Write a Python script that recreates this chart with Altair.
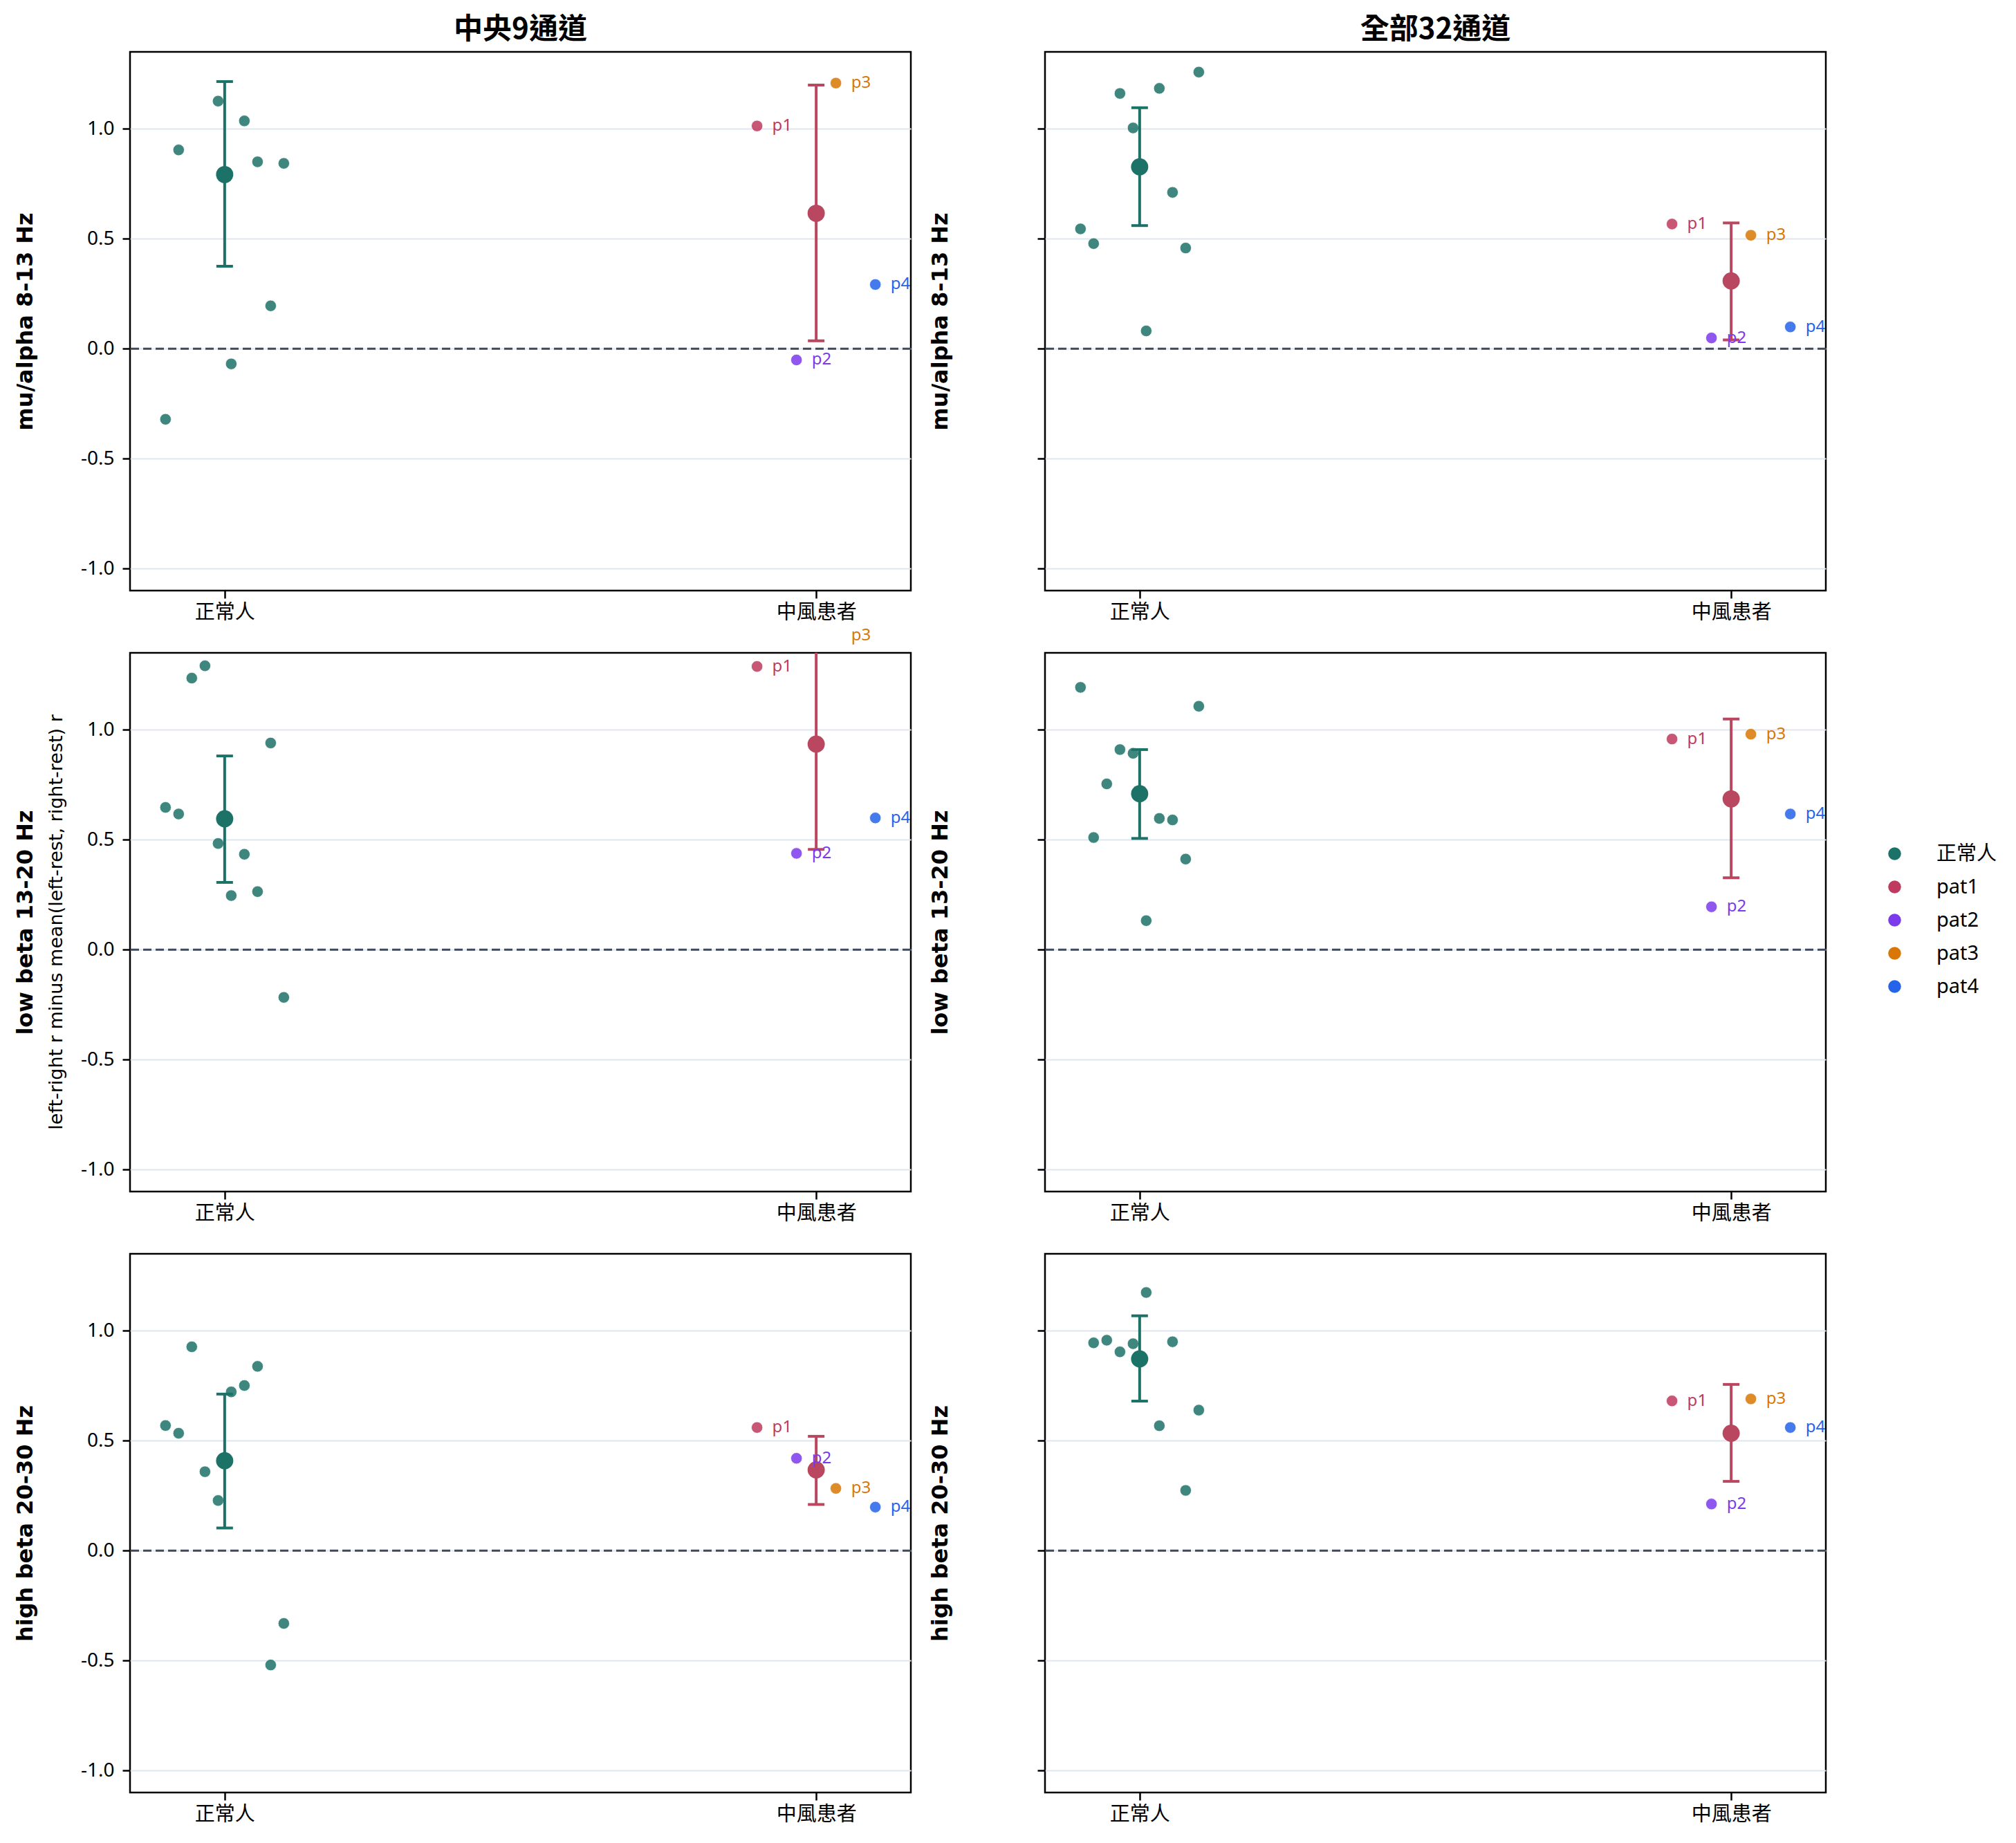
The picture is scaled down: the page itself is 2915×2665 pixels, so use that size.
import altair as alt
import pandas as pd

# ---- categories and labels -------------------------------------------------
GROUPS = ["正常人", "中風患者"]
PATIENTS = ["pat1", "pat2", "pat3", "pat4"]
PAT_TAGS = ["p1", "p2", "p3", "p4"]
BANDS = ["mu/alpha 8-13 Hz", "low beta 13-20 Hz", "high beta 20-30 Hz"]
MONTAGES = ["中央9通道", "全部32通道"]
SUB_LABEL = "left-right r minus mean(left-rest, right-rest) r"

# horizontal spread of the individual dots around each group position
NORMAL_JITTER = [-0.1, -0.0778, -0.0556, -0.0333, -0.0111, 0.0111, 0.0333, 0.0556, 0.0778, 0.1]
PATIENT_JITTER = [-0.1, -0.0333, 0.0333, 0.1]

# ---- individual values (None = subject outside the plotted range) ----------
normal_mu_c9 = [-0.321, 0.904, None, None, 1.126, -0.069, 1.036, 0.850, 0.195, 0.843]
normal_mu_a32 = [0.545, 0.478, None, 1.161, 1.004, 0.081, 1.184, 0.711, 0.458, 1.258]
normal_lb_c9 = [0.647, 0.617, 1.235, 1.291, 0.483, 0.246, 0.434, 0.264, 0.940, -0.217]
normal_lb_a32 = [1.193, 0.510, 0.754, 0.910, 0.893, 0.132, 0.597, 0.590, 0.412, 1.107]
normal_hb_c9 = [0.569, 0.534, 0.927, 0.359, 0.228, 0.722, 0.751, 0.838, -0.520, -0.331]
normal_hb_a32 = [None, 0.945, 0.957, 0.904, 0.941, 1.174, 0.568, 0.950, 0.274, 0.639]

patient_mu_c9 = [1.013, -0.051, 1.208, 0.292]
patient_mu_a32 = [0.567, 0.049, 0.516, 0.099]
patient_lb_c9 = [1.288, 0.438, 1.430, 0.599]
patient_lb_a32 = [0.958, 0.195, 0.980, 0.617]
patient_hb_c9 = [0.560, 0.420, 0.283, 0.198]
patient_hb_a32 = [0.681, 0.212, 0.690, 0.560]

# ---- group mean and 95% CI: [normal, patient] ------------------------------
mean_mu_c9, lo_mu_c9, hi_mu_c9 = [0.792, 0.616], [0.375, 0.036], [1.215, 1.199]
mean_mu_a32, lo_mu_a32, hi_mu_a32 = [0.827, 0.308], [0.560, 0.040], [1.096, 0.572]
mean_lb_c9, lo_lb_c9, hi_lb_c9 = [0.595, 0.935], [0.306, 0.456], [0.881, 1.414]
mean_lb_a32, lo_lb_a32, hi_lb_a32 = [0.709, 0.686], [0.506, 0.327], [0.910, 1.049]
mean_hb_c9, lo_hb_c9, hi_hb_c9 = [0.409, 0.367], [0.103, 0.210], [0.712, 0.520]
mean_hb_a32, lo_hb_a32, hi_hb_a32 = [0.872, 0.534], [0.680, 0.315], [1.068, 0.756]

PANELS = {
    (0, 0): (normal_mu_c9, patient_mu_c9, mean_mu_c9, lo_mu_c9, hi_mu_c9),
    (0, 1): (normal_mu_a32, patient_mu_a32, mean_mu_a32, lo_mu_a32, hi_mu_a32),
    (1, 0): (normal_lb_c9, patient_lb_c9, mean_lb_c9, lo_lb_c9, hi_lb_c9),
    (1, 1): (normal_lb_a32, patient_lb_a32, mean_lb_a32, lo_lb_a32, hi_lb_a32),
    (2, 0): (normal_hb_c9, patient_hb_c9, mean_hb_c9, lo_hb_c9, hi_hb_c9),
    (2, 1): (normal_hb_a32, patient_hb_a32, mean_hb_a32, lo_hb_a32, hi_hb_a32),
}

# ---- styling ---------------------------------------------------------------
LEGEND_DOMAIN = ["正常人"] + PATIENTS
LEGEND_COLORS = ["#1d7268", "#be3a5e", "#7c3aed", "#d97706", "#2563eb"]
SUMMARY_COLORS = ["#1d7268", "#b9475f"]
CJK = "Noto Sans, Noto Sans CJK TC"

PANEL_W, PANEL_H = 1129, 779

y_scale = alt.Scale(domain=[-1.1, 1.35], nice=False, zero=False)
x_scale = alt.Scale(domain=[-0.16, 1.16], nice=False, zero=False)

x_axis = alt.Axis(
    values=[0, 1],
    labelExpr="datum.value == 0 ? '正常人' : '中風患者'",
    title=None, grid=False, domain=False,
    tickSize=11, tickWidth=2.5, tickColor="black",
    labelFont=CJK, labelFontSize=29, labelColor="black", labelPadding=6,
)


def y_axis(band, show_labels):
    return alt.Axis(
        values=[-1, -0.5, 0, 0.5, 1],
        labelExpr="datum.value < 0 ? '-' + format(-datum.value, '.1f') : format(datum.value, '.1f')",
        labels=show_labels,
        title=band, titleX=-135,
        titleFont="DejaVu Sans", titleFontWeight="bold", titleFontSize=32, titleColor="black",
        grid=True, gridColor="#dfe5ee", gridWidth=2,
        domain=False, tickSize=11, tickWidth=2.5, tickColor="black",
        labelFont=CJK, labelFontSize=28, labelColor="black", labelPadding=12,
    )


def panel(bi, mi):
    normals, patients, means, los, his = PANELS[(bi, mi)]
    yax = y_axis(BANDS[bi], mi == 0)

    rows = []
    for off, v in zip(NORMAL_JITTER, normals):
        if v is not None:
            rows.append({"x": 0 + off, "y": v, "who": "正常人", "tag": "", "tc": LEGEND_COLORS[0]})
    for j, (off, v) in enumerate(zip(PATIENT_JITTER, patients)):
        rows.append({"x": 1 + off, "y": v, "who": PATIENTS[j], "tag": PAT_TAGS[j],
                     "tc": LEGEND_COLORS[j + 1]})
    pts = pd.DataFrame(rows)
    summ = pd.DataFrame({"x": [0, 1], "mean": means, "lo": los, "hi": his, "col": SUMMARY_COLORS})

    X = alt.X("x:Q", scale=x_scale, axis=x_axis)

    zero = alt.Chart(pd.DataFrame({"y": [0]})).mark_rule(
        color="#3f4a5c", strokeWidth=3, strokeDash=[12, 6]
    ).encode(y=alt.Y("y:Q", scale=y_scale, axis=yax))

    dots = alt.Chart(pts).mark_circle(
        size=270, opacity=0.85, stroke="white", strokeWidth=0.8, clip=True
    ).encode(
        x=X,
        y=alt.Y("y:Q", scale=y_scale, axis=yax),
        color=alt.Color(
            "who:N",
            scale=alt.Scale(domain=LEGEND_DOMAIN, range=LEGEND_COLORS),
            legend=alt.Legend(
                title=None, orient="none", legendX=2537, legendY=1145,
                symbolType="circle", symbolSize=346, symbolOpacity=1,
                symbolStrokeWidth=0, labelFont=CJK, labelFontSize=29,
                labelColor="black", labelOffset=46, rowPadding=18, padding=0,
            ),
        ),
    )

    bars = alt.Chart(summ).mark_rule(strokeWidth=4, clip=True).encode(
        x=X, y=alt.Y("lo:Q", scale=y_scale, axis=yax), y2="hi:Q",
        color=alt.Color("col:N", scale=None),
    )
    cap_lo = alt.Chart(summ).mark_rule(strokeWidth=4, clip=True, xOffset=-12, x2Offset=12).encode(
        x=X, x2="x:Q", y=alt.Y("lo:Q", scale=y_scale, axis=yax),
        color=alt.Color("col:N", scale=None),
    )
    cap_hi = alt.Chart(summ).mark_rule(strokeWidth=4, clip=True, xOffset=-12, x2Offset=12).encode(
        x=X, x2="x:Q", y=alt.Y("hi:Q", scale=y_scale, axis=yax),
        color=alt.Color("col:N", scale=None),
    )
    centre = alt.Chart(summ).mark_circle(size=620, opacity=1, clip=True).encode(
        x=X, y=alt.Y("mean:Q", scale=y_scale, axis=yax),
        color=alt.Color("col:N", scale=None),
    )
    tags = alt.Chart(pts[pts["tag"] != ""]).mark_text(
        align="left", baseline="middle", dx=22, font="Noto Sans", fontSize=24
    ).encode(
        x=X, y=alt.Y("y:Q", scale=y_scale, axis=yax), text="tag:N",
        color=alt.Color("tc:N", scale=None),
    )

    layers = [zero, dots, bars, cap_lo, cap_hi, centre, tags]
    if bi == 1 and mi == 0:
        sub = alt.Chart(pd.DataFrame({"a": [0]})).mark_text(
            angle=270, align="center", baseline="middle",
            font="DejaVu Sans", fontSize=27, color="black",
        ).encode(x=alt.value(-106), y=alt.value(PANEL_H / 2), text=alt.value(SUB_LABEL))
        layers.append(sub)

    props = dict(width=PANEL_W, height=PANEL_H)
    if bi == 0:
        props["title"] = alt.TitleParams(
            MONTAGES[mi], font="Noto Sans CJK TC", fontSize=42, fontWeight="bold",
            color="black", offset=10,
        )
    return alt.layer(*layers).properties(**props)


panels = [panel(b, m) for b in range(3) for m in range(2)]

chart = (
    alt.concat(*panels, columns=2, spacing=alt.RowColnumber(row=90, column=194), bounds="flush")
    .resolve_scale(color="shared")
    .properties(padding={"left": 18, "top": 20, "right": 0, "bottom": 0}, background="white")
    .configure_view(stroke="black", strokeWidth=2.5)
)

chart.save("out.html", embed_options={"renderer": "svg", "actions": False})
